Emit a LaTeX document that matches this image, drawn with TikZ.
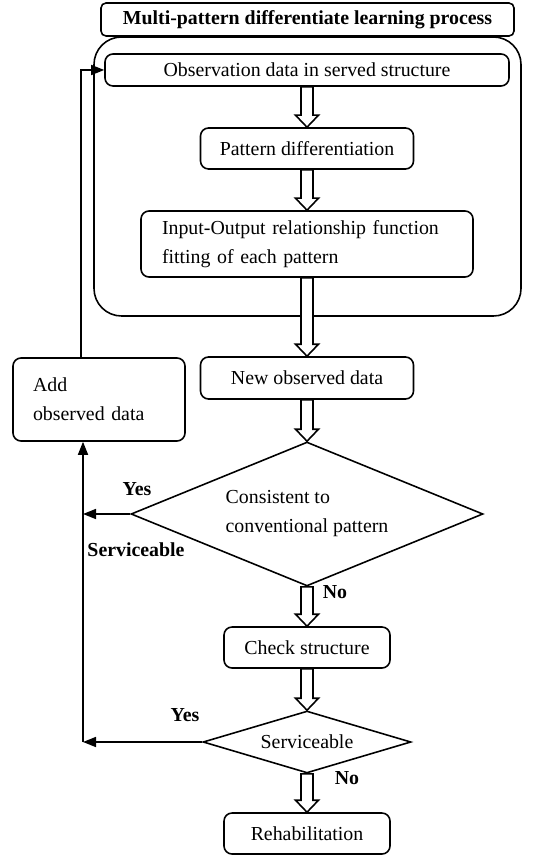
\documentclass[tikz,border=0pt]{standalone}
\usepackage{fontspec}
\setmainfont{Liberation Serif}
\usepackage{tikz}
\usetikzlibrary{arrows.meta,positioning,calc,shapes.geometric}

% hollow block arrow pointing down
\newcommand{\fatarrow}[2]{%
  \draw[fill=white] ($(#1)+(-0.12,0)$) -- ($(#2)+(-0.12,0.24)$) -- ($(#2)+(-0.23,0.24)$) -- (#2)
    -- ($(#2)+(0.23,0.24)$) -- ($(#2)+(0.12,0.24)$) -- ($(#1)+(0.12,0)$) -- cycle;}

\begin{document}
\begin{tikzpicture}[scale=1, line width=0.9pt,
    txt/.style={font=\fontsize{11.3}{16.5}\selectfont},
    box/.style={draw, txt, rounded corners=0.16cm, inner sep=0},
    decision/.style={draw, txt, diamond, inner sep=0},
    lbl/.style={txt, font=\fontsize{11.3}{16.5}\selectfont\bfseries, inner sep=0},
    fb/.style={-{Triangle[length=0.26cm,width=0.2cm]}}]
    \useasboundingbox (0,0) rectangle (10.84,-17.10);

    \node [box, rounded corners=0.1cm, minimum width=8.26cm, minimum height=0.66cm] (title) at (6.15,-0.39) {\textbf{Multi-pattern differentiate learning process}};
    \node [draw, rounded corners=0.55cm, minimum width=8.54cm, minimum height=5.58cm] (learn) at (6.15,-3.53) {};
    \node [box, minimum width=8.08cm, minimum height=0.64cm] (obs) at (6.14,-1.40) {Observation data in served structure};
    \node [box, minimum width=4.26cm, minimum height=0.82cm] (pat) at (6.14,-2.97) {Pattern differentiation};
    \node [box, minimum width=6.64cm, minimum height=1.32cm, inner xsep=0.42cm, text width=5.8cm, align=left] (io) at (6.14,-4.88)
        {\makebox[5.68cm][s]{Input-Output relationship function}\\fitting of each pattern};
    \node [box, minimum width=4.26cm, minimum height=0.84cm] (new) at (6.14,-7.56) {New observed data};
    \node [box, minimum width=3.44cm, minimum height=1.66cm, inner xsep=0.4cm, text width=2.64cm, align=left] (add) at (1.98,-7.99) {Add\\observed data};
    \node [decision, aspect=2.44, minimum width=7.04cm, minimum height=2.88cm, align=left] (cons) at (6.14,-10.28) {Consistent to\\conventional pattern};
    \node [box, minimum width=3.32cm, minimum height=0.82cm] (check) at (6.14,-12.95) {Check structure};
    \node [decision, aspect=3.35, minimum width=4.16cm, minimum height=1.24cm] (serv) at (6.14,-14.84) {Serviceable};
    \node [box, minimum width=3.32cm, minimum height=0.82cm] (rehab) at (6.14,-16.67) {Rehabilitation};

    \node [lbl] (yes1) at (2.74,-9.78) {Yes};
    \node [lbl] (okuse) at (2.72,-11.00) {Serviceable};
    \node [lbl] (no1) at (6.70,-11.84) {No};
    \node [lbl] (yes2) at (3.70,-14.30) {Yes};
    \node [lbl] (no2) at (6.94,-15.56) {No};

    \fatarrow{obs.south}{pat.north}
    \fatarrow{pat.south}{io.north}
    \fatarrow{io.south}{new.north}
    \fatarrow{new.south}{cons.north}
    \fatarrow{cons.south}{check.north}
    \fatarrow{check.south}{serv.north}
    \fatarrow{serv.south}{rehab.north}

    \coordinate (up) at (1.62,-1.40);
    \coordinate (ret) at (1.66,-14.84);
    \draw [fb] (add.north -| up) -- (up) -- (obs.west);
    \draw [fb] (ret) -- (add.south -| ret);
    \draw [fb] (cons.west) -- (cons.west -| ret);
    \draw [fb] (serv.west) -- (ret);
\end{tikzpicture}
\end{document}
